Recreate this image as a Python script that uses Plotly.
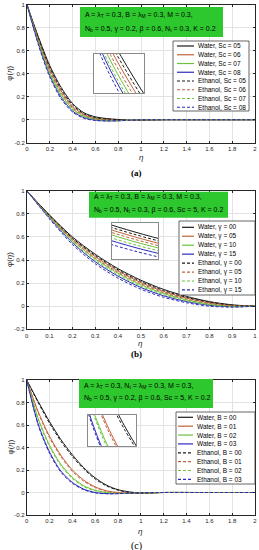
import plotly.graph_objects as go

W, H = 259, 550

# ---------------- data ----------------
# panel (a): effect of Sc
eta_a = [0, 0.1, 0.2, 0.3, 0.4, 0.5, 0.6, 0.7, 0.8, 0.9, 1.0, 1.2, 1.5, 2.0]
a_water_sc05 = [1, 0.72, 0.47, 0.28, 0.14, 0.06, 0.025, 0.01, 0.002, -0.004, -0.003, 0, 0, 0]
a_water_sc06 = [1, 0.70, 0.44, 0.25, 0.115, 0.045, 0.012, 0.0, -0.006, -0.006, -0.003, 0, 0, 0]
a_water_sc07 = [1, 0.68, 0.41, 0.22, 0.095, 0.03, 0.004, -0.006, -0.008, -0.005, -0.002, 0, 0, 0]
a_water_sc08 = [1, 0.66, 0.385, 0.195, 0.075, 0.018, -0.004, -0.01, -0.009, -0.005, -0.002, 0, 0, 0]
a_eth_sc05 = [1, 0.71, 0.455, 0.265, 0.128, 0.052, 0.018, 0.006, 0.0, -0.005, -0.003, 0, 0, 0]
a_eth_sc06 = [1, 0.69, 0.425, 0.235, 0.105, 0.038, 0.008, -0.003, -0.007, -0.006, -0.003, 0, 0, 0]
a_eth_sc07 = [1, 0.67, 0.395, 0.207, 0.085, 0.024, 0.0, -0.008, -0.009, -0.005, -0.002, 0, 0, 0]
a_eth_sc08 = [1, 0.65, 0.37, 0.18, 0.066, 0.012, -0.007, -0.011, -0.009, -0.005, -0.002, 0, 0, 0]
a_labels = ["Water, Sc = 05", "Water, Sc = 06", "Water, Sc = 07", "Water, Sc = 08",
            "Ethanol, Sc = 05", "Ethanol, Sc = 06", "Ethanol, Sc = 07", "Ethanol, Sc = 08"]
a_info = ["A = λ<sub>T</sub> = 0.3, B = λ<sub>M</sub> = 0.3, M = 0.3,",
          "N<sub>b</sub> = 0.5, γ = 0.2, β = 0.6, N<sub>t</sub> = 0.3, K = 0.2"]

# panel (b): effect of gamma
eta_b = [0, 0.1, 0.2, 0.3, 0.4, 0.5, 0.6, 0.7, 0.8, 0.9, 1.0]
b_water_g00 = [1, 0.79, 0.60, 0.45, 0.325, 0.225, 0.145, 0.085, 0.04, 0.012, 0]
b_water_g05 = [1, 0.78, 0.585, 0.43, 0.305, 0.205, 0.127, 0.07, 0.03, 0.006, 0]
b_water_g10 = [1, 0.775, 0.57, 0.41, 0.285, 0.185, 0.11, 0.055, 0.018, 0.0, 0]
b_water_g15 = [1, 0.765, 0.55, 0.385, 0.26, 0.162, 0.09, 0.04, 0.008, -0.005, 0]
b_eth_g00 = [1, 0.785, 0.59, 0.44, 0.315, 0.215, 0.136, 0.077, 0.035, 0.009, 0]
b_eth_g05 = [1, 0.775, 0.575, 0.418, 0.294, 0.195, 0.118, 0.062, 0.024, 0.003, 0]
b_eth_g10 = [1, 0.768, 0.558, 0.397, 0.272, 0.173, 0.10, 0.047, 0.012, -0.003, 0]
b_eth_g15 = [1, 0.755, 0.535, 0.368, 0.243, 0.147, 0.077, 0.03, 0.0, -0.008, 0]
b_labels = ["Water, γ = 00", "Water, γ = 05", "Water, γ = 10", "Water, γ = 15",
            "Ethanol, γ = 00", "Ethanol, γ = 05", "Ethanol, γ = 10", "Ethanol, γ = 15"]
b_info = ["A = λ<sub>T</sub> = 0.3, B = λ<sub>M</sub> = 0.3, M = 0.3,",
          "N<sub>b</sub> = 0.5, N<sub>t</sub> = 0.3, β = 0.6, Sc = 5, K = 0.2"]

# panel (c): effect of B
eta_c = [0, 0.1, 0.2, 0.3, 0.4, 0.5, 0.6, 0.7, 0.8, 0.9, 1.0, 1.2, 1.5, 2.0]
c_water_b00 = [1, 0.81, 0.63, 0.47, 0.335, 0.22, 0.13, 0.065, 0.025, 0.005, -0.004, 0, 0, 0]
c_water_b01 = [1, 0.72, 0.50, 0.33, 0.20, 0.11, 0.05, 0.015, 0.0, -0.006, -0.005, 0, 0, 0]
c_water_b02 = [1, 0.66, 0.42, 0.25, 0.135, 0.06, 0.02, 0.0, -0.008, -0.007, -0.004, 0, 0, 0]
c_water_b03 = [1, 0.61, 0.36, 0.19, 0.09, 0.03, 0.0, -0.01, -0.01, -0.006, -0.003, 0, 0, 0]
c_eth_b00 = [1, 0.80, 0.615, 0.455, 0.32, 0.208, 0.12, 0.058, 0.02, 0.002, -0.005, 0, 0, 0]
c_eth_b01 = [1, 0.71, 0.487, 0.317, 0.188, 0.10, 0.043, 0.01, -0.003, -0.007, -0.005, 0, 0, 0]
c_eth_b02 = [1, 0.65, 0.408, 0.238, 0.125, 0.052, 0.014, -0.003, -0.009, -0.007, -0.004, 0, 0, 0]
c_eth_b03 = [1, 0.60, 0.348, 0.18, 0.082, 0.024, -0.003, -0.011, -0.01, -0.006, -0.003, 0, 0, 0]
c_labels = ["Water, B = 00", "Water, B = 01", "Water, B = 02", "Water, B = 03",
            "Ethanol, B = 00", "Ethanol, B = 01", "Ethanol, B = 02", "Ethanol, B = 03"]
c_info = ["A = λ<sub>T</sub> = 0.3, N<sub>t</sub> = λ<sub>M</sub> = 0.3, M = 0.3,",
          "N<sub>b</sub> = 0.5, γ = 0.2, β = 0.6, Sc = 5, K = 0.2"]

# ticks
x_ticks_wide = [0, 0.2, 0.4, 0.6, 0.8, 1.0, 1.2, 1.4, 1.6, 1.8, 2.0]
x_ticklabels_wide = ["0", "0.2", "0.4", "0.6", "0.8", "1", "1.2", "1.4", "1.6", "1.8", "2"]
x_ticks_narrow = [0, 0.1, 0.2, 0.3, 0.4, 0.5, 0.6, 0.7, 0.8, 0.9, 1.0]
x_ticklabels_narrow = ["0", "0.1", "0.2", "0.3", "0.4", "0.5", "0.6", "0.7", "0.8", "0.9", "1"]
y_ticks = [-0.2, 0, 0.2, 0.4, 0.6, 0.8, 1.0]
y_ticklabels = ["-0.2", "0", "0.2", "0.4", "0.6", "0.8", "1"]
panel_tags = ["<b>(a)</b>", "<b>(b)</b>", "(c)"]

# ---------------- styling / geometry ----------------
colors = ["#1a1a1a", "#c0623a", "#6cc23a", "#2b2bc0"]
DASH = "3px,2px"
AX = "#262626"
GRID = "#e3e3e3"
GREEN = "#2dc82d"
FONT = "Liberation Sans"


def fx(px):
    return px / W


def fy(py):
    return 1 - py / H


panels = [
    dict(eta=eta_a, water=[a_water_sc05, a_water_sc06, a_water_sc07, a_water_sc08],
         eth=[a_eth_sc05, a_eth_sc06, a_eth_sc07, a_eth_sc08], labels=a_labels, info=a_info,
         xt=x_ticks_wide, xtl=x_ticklabels_wide, xr=[0, 2],
         plot=(27, 4.7, 255, 142.7), inset=(94, 54, 144, 93), ixr=[0.1625, 0.2725], iyr=[0.33, 0.43],
         box=(80, 7, 223, 37), boxlines=(15, 29.3), boxtx=83,
         leg=(173, 41, 249, 111), legy0=46, legdy=8.75, legline=(177, 194), legtx=196,
         xlab=157.5, tag=172.5, tagsize=9),
    dict(eta=eta_b, water=[b_water_g00, b_water_g05, b_water_g10, b_water_g15],
         eth=[b_eth_g00, b_eth_g05, b_eth_g10, b_eth_g15], labels=b_labels, info=b_info,
         xt=x_ticks_narrow, xtl=x_ticklabels_narrow, xr=[0, 1],
         plot=(26.7, 190.7, 255, 329.3), inset=(112, 223, 158, 259), ixr=[0.47, 0.53], iyr=[0.115, 0.262],
         box=(89, 191.7, 228, 217.7), boxlines=(197, 210.3), boxtx=92,
         leg=(179, 221, 255, 295), legy0=227.3, legdy=8.95, legline=(182, 194), legtx=195.5,
         xlab=343, tag=354, tagsize=9),
    dict(eta=eta_c, water=[c_water_b00, c_water_b01, c_water_b02, c_water_b03],
         eth=[c_eth_b00, c_eth_b01, c_eth_b02, c_eth_b03], labels=c_labels, info=c_info,
         xt=x_ticks_wide, xtl=x_ticklabels_wide, xr=[0, 2],
         plot=(26.7, 380, 255, 515), inset=(88, 415, 136, 446), ixr=[0.18, 0.47], iyr=[0.25, 0.38],
         box=(79, 379, 213, 408), boxlines=(385.7, 398.3), boxtx=82,
         leg=(176, 412, 255, 484), legy0=417.3, legdy=8.87, legline=(178, 193), legtx=194.5,
         xlab=531, tag=546, tagsize=10),
]

fig = go.Figure()
layout = {}
shapes = []
annotations = []

for i, p in enumerate(panels):
    m = i + 1
    n = i + 4
    mx = "x" if m == 1 else f"x{m}"
    my = "y" if m == 1 else f"y{m}"
    ix, iy = f"x{n}", f"y{n}"
    x0, y0, x1, y1 = p["plot"]

    layout["xaxis" if m == 1 else f"xaxis{m}"] = dict(
        domain=[fx(x0), fx(x1)], range=p["xr"], anchor=my,
        tickmode="array", tickvals=p["xt"], ticktext=p["xtl"],
        showgrid=True, gridcolor=GRID, gridwidth=1, zeroline=False,
        showline=True, linecolor=AX, linewidth=1, mirror="ticks",
        ticks="inside", ticklen=2, tickcolor=AX,
        tickfont=dict(family=FONT, size=6, color=AX), automargin=False)
    layout["yaxis" if m == 1 else f"yaxis{m}"] = dict(
        domain=[fy(y1), fy(y0)], range=[-0.2, 1.0], anchor=mx,
        tickmode="array", tickvals=y_ticks, ticktext=y_ticklabels,
        showgrid=True, gridcolor=GRID, gridwidth=1, zeroline=False,
        showline=True, linecolor=AX, linewidth=1, mirror="ticks",
        ticks="inside", ticklen=2, tickcolor=AX,
        tickfont=dict(family=FONT, size=6, color=AX), automargin=False)

    ix0, iy0, ix1, iy1 = p["inset"]
    layout[f"xaxis{n}"] = dict(domain=[fx(ix0), fx(ix1)], range=p["ixr"], anchor=iy,
                               showgrid=False, zeroline=False, showticklabels=False, ticks="",
                               showline=True, linecolor="#8a8a8a", linewidth=1, mirror=True)
    layout[f"yaxis{n}"] = dict(domain=[fy(iy1), fy(iy0)], range=p["iyr"], anchor=ix,
                               showgrid=False, zeroline=False, showticklabels=False, ticks="",
                               showline=True, linecolor="#8a8a8a", linewidth=1, mirror=True)
    # white background of the inset (covers the main grid)
    shapes.append(dict(type="rect", xref=ix, yref=iy, x0=p["ixr"][0], x1=p["ixr"][1],
                       y0=p["iyr"][0], y1=p["iyr"][1], fillcolor="white",
                       line=dict(width=0), layer="below"))

    series = [(v, colors[k], None) for k, v in enumerate(p["water"])] + \
             [(v, colors[k], DASH) for k, v in enumerate(p["eth"])]
    for k, (vals, col, dash) in enumerate(series):
        for xa, ya in ((mx, my), (ix, iy)):
            fig.add_trace(go.Scatter(
                x=p["eta"], y=vals, mode="lines", xaxis=xa, yaxis=ya,
                name=p["labels"][k], showlegend=False, hoverinfo="skip",
                line=dict(color=col, width=1, dash=dash, shape="spline", smoothing=0.8)))

    # green parameter box
    bx0, by0, bx1, by1 = p["box"]
    shapes.append(dict(type="rect", xref="paper", yref="paper", x0=fx(bx0), x1=fx(bx1),
                       y0=fy(by1), y1=fy(by0), fillcolor=GREEN, line=dict(width=0), layer="above"))
    for txt, ly in zip(p["info"], p["boxlines"]):
        annotations.append(dict(text=txt, xref="paper", yref="paper", x=fx(p["boxtx"]), y=fy(ly),
                                xanchor="left", yanchor="middle", showarrow=False,
                                font=dict(family=FONT, size=7, color="black")))

    # legend box
    lx0, ly0, lx1, ly1 = p["leg"]
    shapes.append(dict(type="rect", xref="paper", yref="paper", x0=fx(lx0), x1=fx(lx1),
                       y0=fy(ly1), y1=fy(ly0), fillcolor="white",
                       line=dict(color="#404040", width=0.8), layer="above"))
    for k, (vals, col, dash) in enumerate(series):
        yy = fy(p["legy0"] + k * p["legdy"])
        shapes.append(dict(type="line", xref="paper", yref="paper",
                           x0=fx(p["legline"][0]), x1=fx(p["legline"][1]), y0=yy, y1=yy,
                           line=dict(color=col, width=1.2, dash=dash), layer="above"))
        annotations.append(dict(text=p["labels"][k], xref="paper", yref="paper",
                                x=fx(p["legtx"]), y=yy, xanchor="left", yanchor="middle",
                                showarrow=False, font=dict(family=FONT, size=6.5, color="black")))

    # axis titles and panel tag
    annotations.append(dict(text="<i>η</i>", xref="paper", yref="paper", x=fx((x0 + x1) / 2),
                            y=fy(p["xlab"]), xanchor="center", yanchor="middle", showarrow=False,
                            font=dict(family=FONT, size=8, color=AX)))
    annotations.append(dict(text="φ(<i>η</i>)", xref="paper", yref="paper", x=fx(10),
                            y=fy((y0 + y1) / 2), xanchor="center", yanchor="middle", showarrow=False,
                            textangle=-90, font=dict(family=FONT, size=8, color=AX)))
    annotations.append(dict(text=panel_tags[i], xref="paper", yref="paper",
                            x=fx(136), y=fy(p["tag"]), xanchor="center", yanchor="middle",
                            showarrow=False,
                            font=dict(family="Liberation Serif", size=p["tagsize"], color="black")))

layout.update(dict(width=W, height=H, autosize=False, margin=dict(l=0, r=0, t=0, b=0),
                   paper_bgcolor="white", plot_bgcolor="white", showlegend=False,
                   shapes=shapes, annotations=annotations))
fig.update_layout(**layout)
fig.write_html("out.html", config={"displayModeBar": False},
               post_script="document.body.style.margin='0';document.body.style.overflow='hidden';")
